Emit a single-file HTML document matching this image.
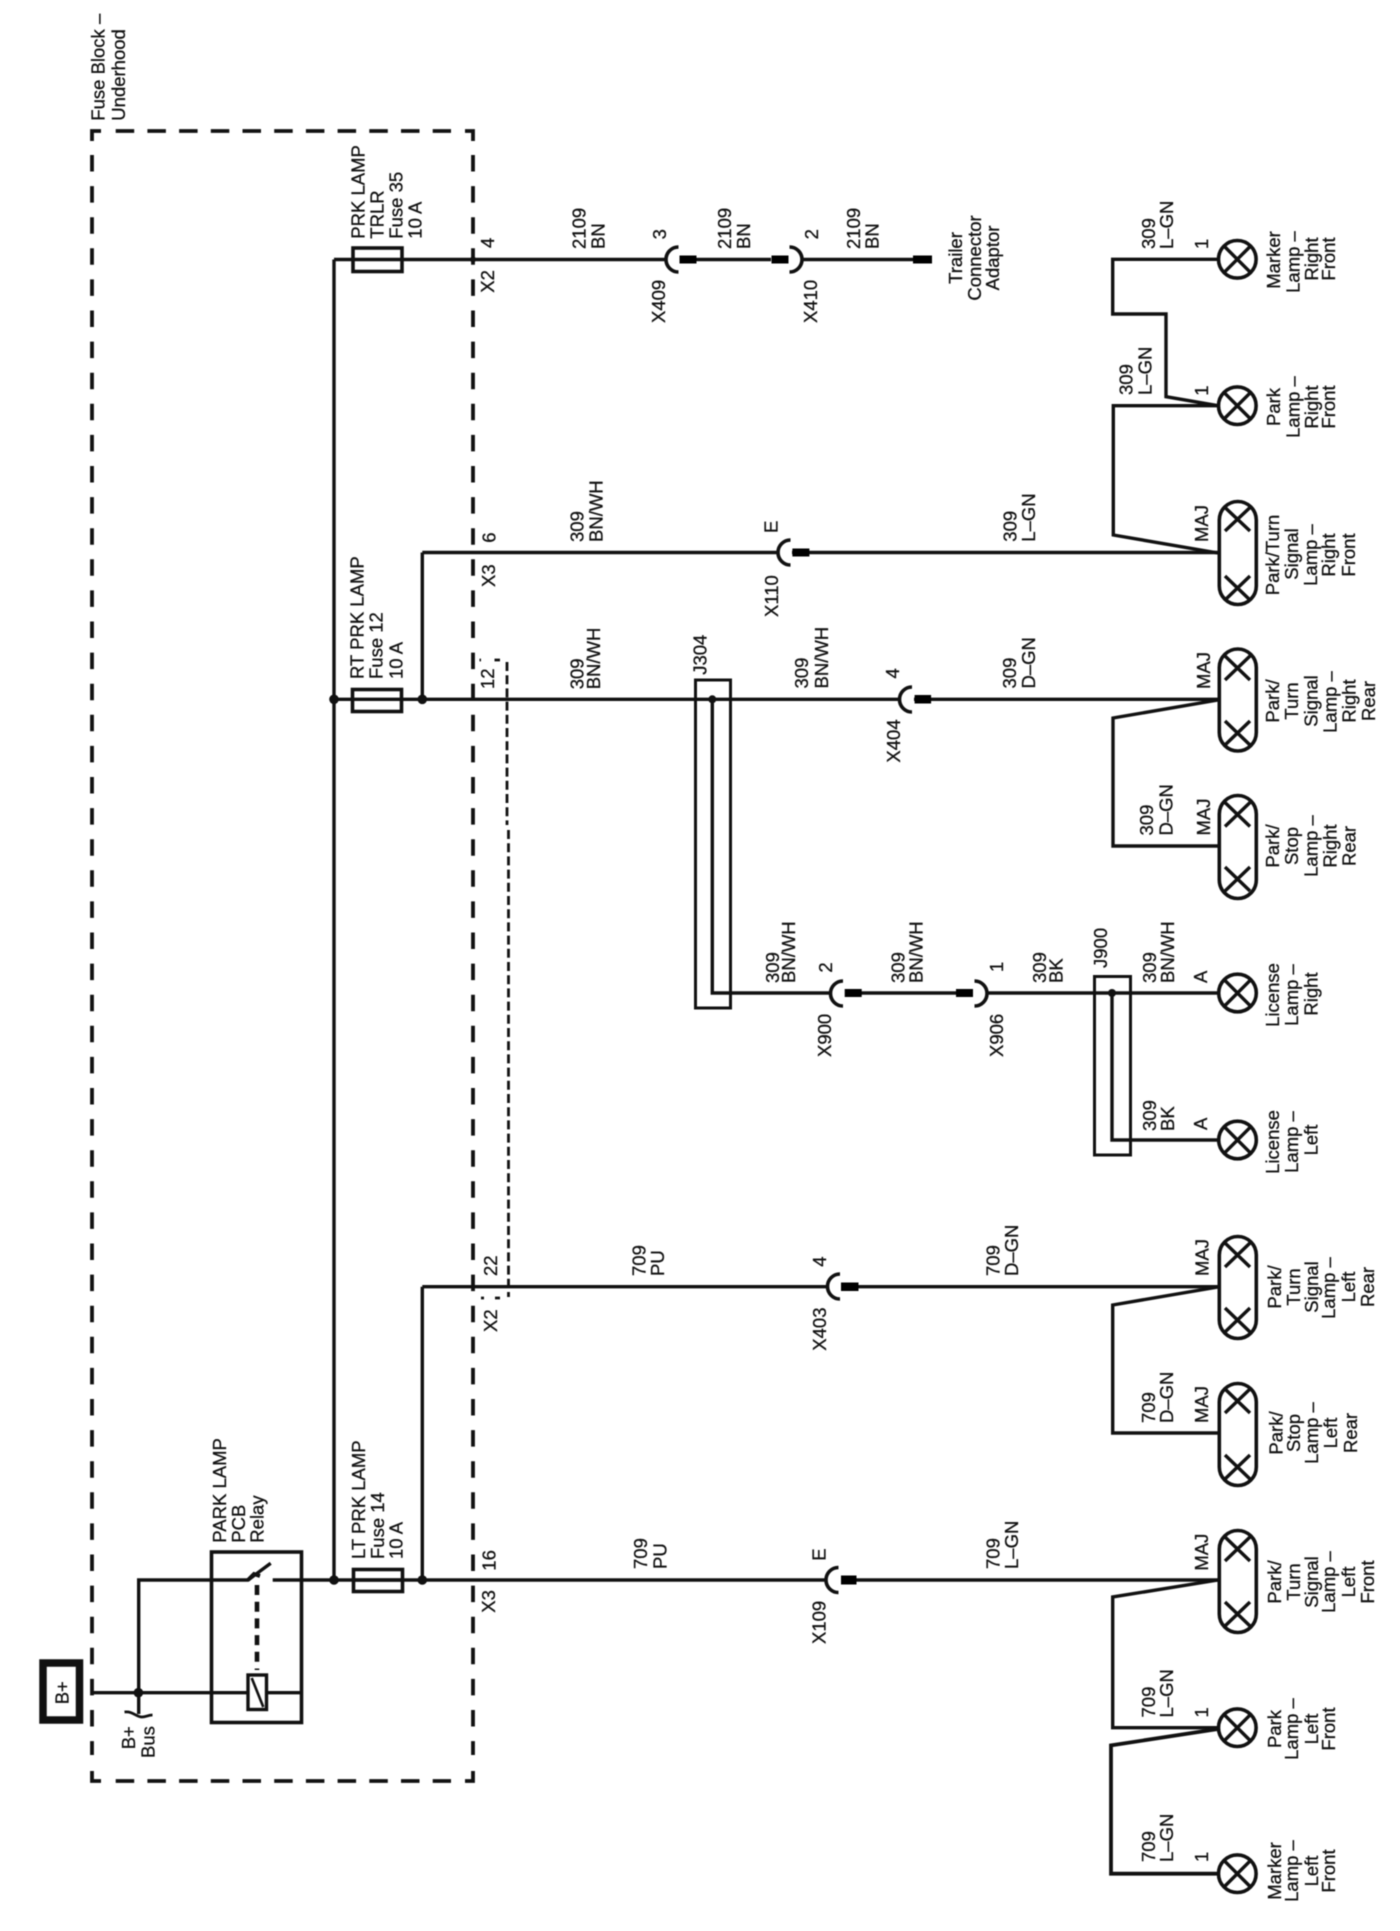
<!DOCTYPE html>
<html>
<head>
<meta charset="utf-8">
<style>
html,body{margin:0;padding:0;background:#fff}
svg{display:block;filter:blur(0.4px)}
text{font-family:"Liberation Sans",sans-serif;font-size:18.5px;fill:#111;stroke:#111;stroke-width:.3px}
.m{text-anchor:middle}
.w{fill:none;stroke:#111;stroke-width:3.4;stroke-linejoin:miter}
.b{fill:none;stroke:#111;stroke-width:3.6}
.l{fill:#fff;stroke:#111;stroke-width:3.6}
.x{fill:none;stroke:#111;stroke-width:3.4}
.a{fill:none;stroke:#111;stroke-width:3.6}
</style>
</head>
<body>
<svg xmlns="http://www.w3.org/2000/svg" width="1400" height="1931" viewBox="0 0 1400 1931">
<rect width="1400" height="1931" fill="#fff"/>

<!-- dashed fuse block -->
<g fill="none" stroke="#111" stroke-width="3.8">
<path d="M92 141V131H101"/>
<path d="M465 131H473V141"/>
<path d="M92 1771V1781H101"/>
<path d="M465 1781H473V1771"/>
<path d="M115.7 131H451" stroke-dasharray="18.5 13.2"/>
<path d="M115.7 1781H451" stroke-dasharray="18.5 13.2"/>
<path d="M92 155V1755" stroke-dasharray="16.5 14.6"/>
<path d="M473 155V1755" stroke-dasharray="16.5 14.6"/>
</g>

<!-- inner short-dashed connector outline -->
<g fill="none" stroke="#111" stroke-width="2.8">
<path d="M507 662V825" stroke-dasharray="9 4.2"/>
<path d="M508.5 830V1297" stroke-dasharray="9 4.2"/>
<path d="M479.5 660H481M494.5 660H500"/>
<path d="M481 1298H484M495 1298H500"/>
</g>

<!-- bus verticals -->
<path class="w" d="M334 259.5V1580"/>
<path class="w" d="M422.3 552.5V699.3"/>
<path class="w" d="M422.3 1286.7V1580"/>

<!-- wire 1 -->
<path class="w" d="M334 259.5H666M696 259.5H771M803 259.5H913"/>
<rect x="353" y="248" width="49" height="23.5" class="b"/>
<path class="a" d="M678.5 247 A12.5 12.5 0 0 0 678.5 272"/>
<rect x="679.5" y="255.5" width="17" height="8"/>
<rect x="771.5" y="255.5" width="17" height="8"/>
<path class="a" d="M789.5 247 A12.5 12.5 0 0 1 789.5 272"/>
<rect x="913" y="255.5" width="19" height="8"/>

<!-- wire 2 -->
<path class="w" d="M422.3 552.5H778.6M792 552.5H1218"/>
<path class="a" d="M790.5 540 A12.5 12.5 0 0 0 790.5 565"/>
<rect x="792.4" y="548.5" width="17" height="8"/>

<!-- wire 3 -->
<path class="w" d="M334 699.3H900M914 699.3H1218"/>
<rect x="352.5" y="689.5" width="49" height="22" fill="none" class="b"/>
<path class="a" d="M912 687 A12.5 12.5 0 0 0 912 712"/>
<rect x="914.6" y="695" width="16.5" height="8.5"/>

<!-- J304 / J900 harness -->
<rect x="695.5" y="680" width="35" height="328" class="b" style="stroke-width:3"/>
<path class="w" d="M712.3 699.3V993H831M860 993H956M987 993H1218"/>
<rect x="844.7" y="989" width="17" height="8"/>
<rect x="956" y="989" width="17" height="8"/>
<path class="a" d="M843 981 A12.5 12.5 0 0 0 843 1006"/>
<path class="a" d="M974.5 981 A12.5 12.5 0 0 1 974.5 1006"/>
<rect x="1094.5" y="976.5" width="36" height="178.5" class="b" style="stroke-width:3"/>
<path class="w" d="M1112 993V1140H1218"/>

<!-- wire 4 -->
<path class="w" d="M422.3 1286.7H827.7M841 1286.7H1218"/>
<path class="a" d="M840 1274 A12.5 12.5 0 0 0 840 1299"/>
<rect x="841" y="1282.5" width="17.5" height="8.5"/>

<!-- wire 5 -->
<path class="w" d="M272.7 1580H826.3M841 1580H1218"/>
<rect x="353.5" y="1569.5" width="49" height="22" fill="#fff" class="b"/>
<path class="w" d="M353.5 1580H402"/>
<path class="a" d="M838.5 1567.5 A12.5 12.5 0 0 0 838.5 1592.5"/>
<rect x="841" y="1575.5" width="15.5" height="9"/>

<!-- right side branches -->
<path class="w" d="M1218 553L1113.3 535V405.7H1218"/>
<path class="w" d="M1218 405.7L1166 396.7V314H1112.7V259.3H1218"/>
<path class="w" d="M1218 700L1113 718V846H1218"/>
<path class="w" d="M1218 1287L1112.7 1305V1433H1218"/>
<path class="w" d="M1218 1580L1112.7 1597V1727.7H1218"/>
<path class="w" d="M1218 1729L1111 1745.4V1873.7H1218" style="stroke-width:3.8"/>

<!-- lamps: single -->
<g>
<circle cx="1237.3" cy="259.3" r="18.8" class="l"/><path class="x" d="M1224 246L1250.6 272.6M1250.6 246L1224 272.6"/>
<circle cx="1237.3" cy="405.7" r="18.8" class="l"/><path class="x" d="M1224 392.4L1250.6 419M1250.6 392.4L1224 419"/>
<circle cx="1237.5" cy="993" r="18.8" class="l"/><path class="x" d="M1224.2 979.7L1250.8 1006.3M1250.8 979.7L1224.2 1006.3"/>
<circle cx="1237.5" cy="1140" r="18.8" class="l"/><path class="x" d="M1224.2 1126.7L1250.8 1153.3M1250.8 1126.7L1224.2 1153.3"/>
<circle cx="1237.3" cy="1727.7" r="18.8" class="l"/><path class="x" d="M1224 1714.4L1250.6 1741M1250.6 1714.4L1224 1741"/>
<circle cx="1237.3" cy="1873.7" r="18.8" class="l"/><path class="x" d="M1224 1860.4L1250.6 1887M1250.6 1860.4L1224 1887"/>
</g>

<!-- lamps: double capsule -->
<g>
<rect x="1219.3" y="501.5" width="37" height="103" rx="18.5" class="l"/>
<path class="x" d="M1225 507.5L1250 531M1250 507.5L1225 531M1225 576L1250 600M1250 576L1225 600"/>
<rect x="1219.3" y="649" width="37" height="102" rx="18.5" class="l"/>
<path class="x" d="M1225 656L1250 680M1250 656L1225 680M1225 721L1250 745M1250 721L1225 745"/>
<rect x="1219.3" y="795.5" width="37" height="103" rx="18.5" class="l"/>
<path class="x" d="M1225 802.5L1250 826.5M1250 802.5L1225 826.5M1225 867L1250 891M1250 867L1225 891"/>
<rect x="1219.3" y="1236.5" width="37" height="102" rx="18.5" class="l"/>
<path class="x" d="M1225 1243L1250 1267M1250 1243L1225 1267M1225 1308L1250 1332M1250 1308L1225 1332"/>
<rect x="1219.3" y="1383.5" width="37" height="102" rx="18.5" class="l"/>
<path class="x" d="M1225 1389L1250 1413M1250 1389L1225 1413M1225 1455L1250 1479M1250 1455L1225 1479"/>
<rect x="1219.3" y="1530.5" width="37" height="102" rx="18.5" class="l"/>
<path class="x" d="M1225 1537L1250 1561M1250 1537L1225 1561M1225 1602L1250 1626M1250 1602L1225 1626"/>
</g>

<!-- B+ box and relay -->
<rect x="43" y="1663" width="36.5" height="57" fill="#fff" stroke="#111" stroke-width="7.5"/>
<path class="w" d="M92 1692.7H246.7M267.3 1692.7H301.7"/>
<path class="w" d="M138.7 1692.7V1580H248L270.7 1563.3"/>
<rect x="211.5" y="1552" width="90" height="170.5" fill="none" stroke="#111" stroke-width="3.6"/>
<path d="M257 1585V1670" fill="none" stroke="#111" stroke-width="4.6" stroke-dasharray="10 6.7"/>
<rect x="248" y="1675" width="18.5" height="34.5" fill="#fff" stroke="#111" stroke-width="3.4"/>
<path d="M251.7 1678L263.3 1707" fill="none" stroke="#111" stroke-width="2.6"/>
<path class="w" d="M138.7 1692.7V1714"/>
<path d="M124.5 1712C133 1711 136 1717 142 1717C146 1717 148 1715 152.5 1715" fill="none" stroke="#111" stroke-width="2.8"/>
<path d="M248 1580L254 1574L260 1576" fill="none" stroke="#111" stroke-width="4"/>

<!-- junction dots -->
<g fill="#111">
<circle cx="138.4" cy="1692.7" r="4.8"/>
<circle cx="334" cy="1580" r="4.8"/>
<circle cx="422.3" cy="1580" r="4.8"/>
<circle cx="334" cy="699.3" r="4.8"/>
<circle cx="422.3" cy="699.3" r="4.8"/>
<circle cx="712.3" cy="699.3" r="4"/>
<circle cx="1112" cy="993" r="4"/>
<circle cx="473" cy="259.5" r="3"/>
</g>

<!-- labels -->
<text transform="translate(104.5 120.7) rotate(-90)">Fuse Block –</text>
<text transform="translate(125 120.7) rotate(-90)">Underhood</text>

<text transform="translate(364.3 238.7) rotate(-90)">PRK LAMP</text>
<text transform="translate(383.3 238.7) rotate(-90)">TRLR</text>
<text transform="translate(402.7 238.7) rotate(-90)">Fuse 35</text>
<text transform="translate(421.7 238.7) rotate(-90)">10 A</text>

<text transform="translate(494 248) rotate(-90)">4</text>
<text transform="translate(494 292.7) rotate(-90)">X2</text>
<text transform="translate(585.7 249) rotate(-90)">2109</text>
<text transform="translate(604.5 249) rotate(-90)">BN</text>
<text transform="translate(666 239.4) rotate(-90)">3</text>
<text transform="translate(665 323) rotate(-90)">X409</text>
<text transform="translate(731 249) rotate(-90)">2109</text>
<text transform="translate(750 249) rotate(-90)">BN</text>
<text transform="translate(818 239.4) rotate(-90)">2</text>
<text transform="translate(817 323) rotate(-90)">X410</text>
<text transform="translate(860 249) rotate(-90)">2109</text>
<text transform="translate(878.6 249) rotate(-90)">BN</text>
<text class="m" transform="translate(962 258) rotate(-90)">Trailer</text>
<text class="m" transform="translate(981 258) rotate(-90)">Connector</text>
<text class="m" transform="translate(999 258) rotate(-90)">Adaptor</text>

<text transform="translate(1155 249) rotate(-90)">309</text>
<text transform="translate(1173 249) rotate(-90)">L–GN</text>
<text transform="translate(1208 249) rotate(-90)">1</text>
<text class="m" transform="translate(1280 260) rotate(-90)">Marker</text>
<text class="m" transform="translate(1299.3 262) rotate(-90)">Lamp –</text>
<text class="m" transform="translate(1318 259) rotate(-90)">Right</text>
<text class="m" transform="translate(1335 259) rotate(-90)">Front</text>

<text transform="translate(1132.7 395) rotate(-90)">309</text>
<text transform="translate(1151.7 395) rotate(-90)">L–GN</text>
<text transform="translate(1208 395.7) rotate(-90)">1</text>
<text class="m" transform="translate(1280 407) rotate(-90)">Park</text>
<text class="m" transform="translate(1299.3 407) rotate(-90)">Lamp –</text>
<text class="m" transform="translate(1318 407) rotate(-90)">Right</text>
<text class="m" transform="translate(1335 407) rotate(-90)">Front</text>

<text transform="translate(495.5 542.7) rotate(-90)">6</text>
<text transform="translate(495 587) rotate(-90)">X3</text>
<text transform="translate(583.5 542) rotate(-90)">309</text>
<text transform="translate(602.7 542) rotate(-90)">BN/WH</text>
<text transform="translate(777.7 533) rotate(-90)">E</text>
<text transform="translate(778 617) rotate(-90)">X110</text>
<text transform="translate(1016.7 541.7) rotate(-90)">309</text>
<text transform="translate(1035 541.7) rotate(-90)">L–GN</text>
<text transform="translate(1208 542) rotate(-90)">MAJ</text>
<text class="m" transform="translate(1279 555) rotate(-90)">Park/Turn</text>
<text class="m" transform="translate(1298 554) rotate(-90)">Signal</text>
<text class="m" transform="translate(1317 555) rotate(-90)">Lamp –</text>
<text class="m" transform="translate(1335 555) rotate(-90)">Right</text>
<text class="m" transform="translate(1355 555) rotate(-90)">Front</text>

<text transform="translate(363.3 679) rotate(-90)">RT PRK LAMP</text>
<text transform="translate(382.3 679) rotate(-90)">Fuse 12</text>
<text transform="translate(402.3 679) rotate(-90)">10 A</text>
<text transform="translate(494 689) rotate(-90)">12</text>
<text transform="translate(583.3 689.3) rotate(-90)">309</text>
<text transform="translate(600 689.3) rotate(-90)">BN/WH</text>
<text transform="translate(706.5 674.8) rotate(-90)">J304</text>
<text transform="translate(808 688.5) rotate(-90)">309</text>
<text transform="translate(828 688.5) rotate(-90)">BN/WH</text>
<text transform="translate(899 678.5) rotate(-90)">4</text>
<text transform="translate(900 762.6) rotate(-90)">X404</text>
<text transform="translate(1016 688.5) rotate(-90)">309</text>
<text transform="translate(1035 688.5) rotate(-90)">D–GN</text>
<text transform="translate(1210 689) rotate(-90)">MAJ</text>
<text class="m" transform="translate(1279 701) rotate(-90)">Park/</text>
<text class="m" transform="translate(1298 701) rotate(-90)">Turn</text>
<text class="m" transform="translate(1317.5 701) rotate(-90)">Signal</text>
<text class="m" transform="translate(1336.6 702) rotate(-90)">Lamp –</text>
<text class="m" transform="translate(1355.7 701) rotate(-90)">Right</text>
<text class="m" transform="translate(1375 701) rotate(-90)">Rear</text>

<text transform="translate(1153 835.5) rotate(-90)">309</text>
<text transform="translate(1172.5 835.5) rotate(-90)">D–GN</text>
<text transform="translate(1210 835.5) rotate(-90)">MAJ</text>
<text class="m" transform="translate(1279 846) rotate(-90)">Park/</text>
<text class="m" transform="translate(1298 846) rotate(-90)">Stop</text>
<text class="m" transform="translate(1317.5 846) rotate(-90)">Lamp –</text>
<text class="m" transform="translate(1336.6 846) rotate(-90)">Right</text>
<text class="m" transform="translate(1355.7 846) rotate(-90)">Rear</text>

<text transform="translate(779 983) rotate(-90)">309</text>
<text transform="translate(795 983) rotate(-90)">BN/WH</text>
<text transform="translate(832 972.6) rotate(-90)">2</text>
<text transform="translate(831 1057) rotate(-90)">X900</text>
<text transform="translate(904.5 983) rotate(-90)">309</text>
<text transform="translate(922.7 983) rotate(-90)">BN/WH</text>
<text transform="translate(1003 972) rotate(-90)">1</text>
<text transform="translate(1003 1057) rotate(-90)">X906</text>
<text transform="translate(1046 983) rotate(-90)">309</text>
<text transform="translate(1062.4 983) rotate(-90)">BK</text>
<text transform="translate(1107 968) rotate(-90)">J900</text>
<text transform="translate(1156 983) rotate(-90)">309</text>
<text transform="translate(1174 983) rotate(-90)">BN/WH</text>
<text transform="translate(1207 983) rotate(-90)">A</text>
<text class="m" transform="translate(1279 995) rotate(-90)">License</text>
<text class="m" transform="translate(1298 995) rotate(-90)">Lamp –</text>
<text class="m" transform="translate(1317.5 994) rotate(-90)">Right</text>

<text transform="translate(1156 1131) rotate(-90)">309</text>
<text transform="translate(1174 1131) rotate(-90)">BK</text>
<text transform="translate(1207 1130) rotate(-90)">A</text>
<text class="m" transform="translate(1279 1142) rotate(-90)">License</text>
<text class="m" transform="translate(1298 1142) rotate(-90)">Lamp –</text>
<text class="m" transform="translate(1317.5 1140) rotate(-90)">Left</text>

<text transform="translate(497 1276) rotate(-90)">22</text>
<text transform="translate(497 1332) rotate(-90)">X2</text>
<text transform="translate(645.5 1276) rotate(-90)">709</text>
<text transform="translate(664 1276) rotate(-90)">PU</text>
<text transform="translate(826 1266.7) rotate(-90)">4</text>
<text transform="translate(826 1350.7) rotate(-90)">X403</text>
<text transform="translate(999.5 1276) rotate(-90)">709</text>
<text transform="translate(1018 1276) rotate(-90)">D–GN</text>
<text transform="translate(1208.3 1276) rotate(-90)">MAJ</text>
<text class="m" transform="translate(1281 1287) rotate(-90)">Park/</text>
<text class="m" transform="translate(1300 1287) rotate(-90)">Turn</text>
<text class="m" transform="translate(1318 1287) rotate(-90)">Signal</text>
<text class="m" transform="translate(1335 1288) rotate(-90)">Lamp –</text>
<text class="m" transform="translate(1355 1287) rotate(-90)">Left</text>
<text class="m" transform="translate(1374 1287) rotate(-90)">Rear</text>

<text transform="translate(1155 1423) rotate(-90)">709</text>
<text transform="translate(1173 1423) rotate(-90)">D–GN</text>
<text transform="translate(1208 1423) rotate(-90)">MAJ</text>
<text class="m" transform="translate(1282.7 1433) rotate(-90)">Park/</text>
<text class="m" transform="translate(1300 1433) rotate(-90)">Stop</text>
<text class="m" transform="translate(1318 1433) rotate(-90)">Lamp –</text>
<text class="m" transform="translate(1337 1433) rotate(-90)">Left</text>
<text class="m" transform="translate(1357 1433) rotate(-90)">Rear</text>

<text transform="translate(226 1542.7) rotate(-90)">PARK LAMP</text>
<text transform="translate(245 1542.7) rotate(-90)">PCB</text>
<text transform="translate(263.3 1542.7) rotate(-90)">Relay</text>
<text transform="translate(365 1559) rotate(-90)">LT PRK LAMP</text>
<text transform="translate(384 1559) rotate(-90)">Fuse 14</text>
<text transform="translate(402.7 1559) rotate(-90)">10 A</text>
<text transform="translate(495.5 1570.7) rotate(-90)">16</text>
<text transform="translate(495 1612.7) rotate(-90)">X3</text>
<text transform="translate(647 1569) rotate(-90)">709</text>
<text transform="translate(666.5 1569) rotate(-90)">PU</text>
<text transform="translate(825.5 1560.7) rotate(-90)">E</text>
<text transform="translate(825.5 1644) rotate(-90)">X109</text>
<text transform="translate(999.5 1569) rotate(-90)">709</text>
<text transform="translate(1018 1569) rotate(-90)">L–GN</text>
<text transform="translate(1208 1570.6) rotate(-90)">MAJ</text>
<text class="m" transform="translate(1281 1582) rotate(-90)">Park/</text>
<text class="m" transform="translate(1300 1582) rotate(-90)">Turn</text>
<text class="m" transform="translate(1318 1582) rotate(-90)">Signal</text>
<text class="m" transform="translate(1335 1582) rotate(-90)">Lamp –</text>
<text class="m" transform="translate(1355 1582) rotate(-90)">Left</text>
<text class="m" transform="translate(1374 1582) rotate(-90)">Front</text>

<text transform="translate(1155 1717.5) rotate(-90)">709</text>
<text transform="translate(1173 1717.5) rotate(-90)">L–GN</text>
<text transform="translate(1208 1717.5) rotate(-90)">1</text>
<text class="m" transform="translate(1281 1729) rotate(-90)">Park</text>
<text class="m" transform="translate(1298 1729) rotate(-90)">Lamp –</text>
<text class="m" transform="translate(1318 1729) rotate(-90)">Left</text>
<text class="m" transform="translate(1335 1729) rotate(-90)">Front</text>

<text transform="translate(1155 1862) rotate(-90)">709</text>
<text transform="translate(1173 1862) rotate(-90)">L–GN</text>
<text transform="translate(1208 1862) rotate(-90)">1</text>
<text class="m" transform="translate(1281 1871) rotate(-90)">Marker</text>
<text class="m" transform="translate(1298 1871) rotate(-90)">Lamp –</text>
<text class="m" transform="translate(1318 1871) rotate(-90)">Left</text>
<text class="m" transform="translate(1335 1871) rotate(-90)">Front</text>

<text class="m" transform="translate(68.3 1692.7) rotate(-90)">B+</text>
<text transform="translate(135 1749.3) rotate(-90)">B+</text>
<text transform="translate(154.3 1758) rotate(-90)">Bus</text>
</svg>
</body>
</html>
